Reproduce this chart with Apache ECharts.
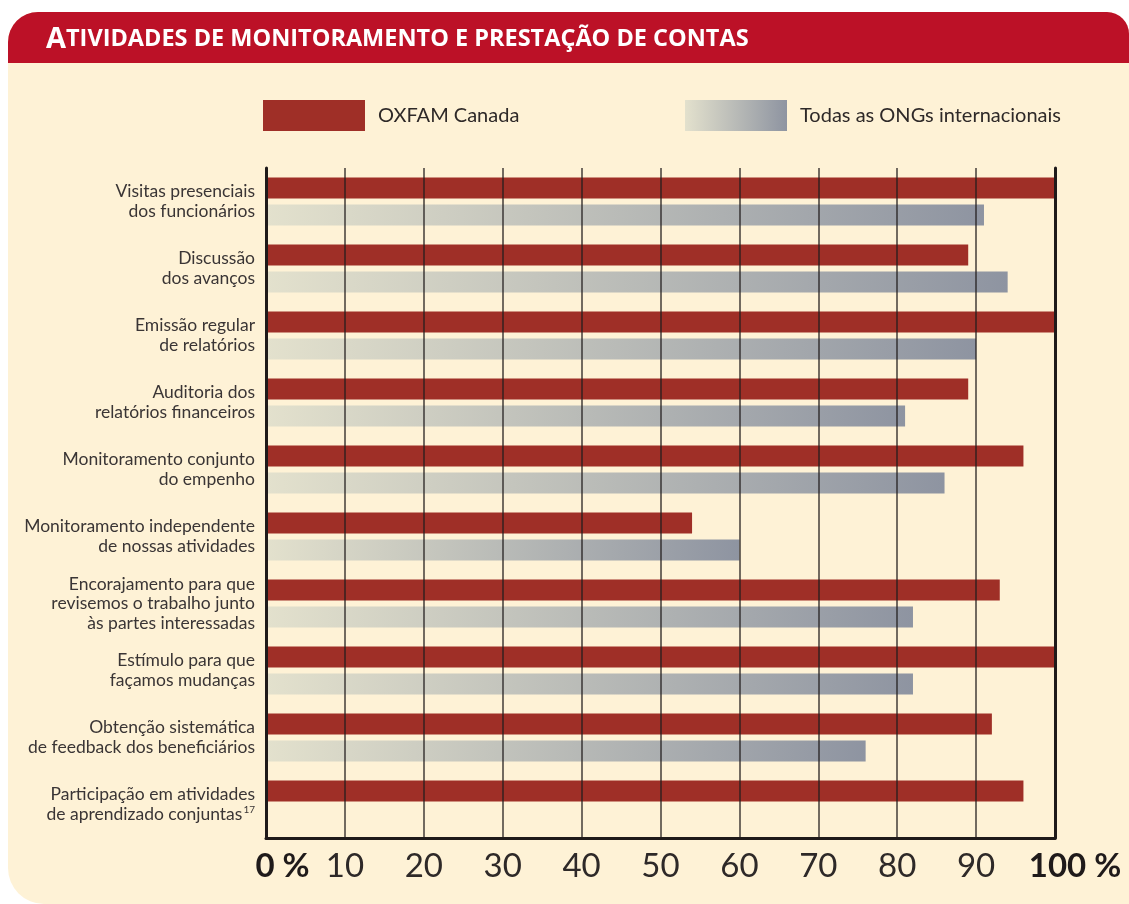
<!DOCTYPE html>
<html>
<head>
<meta charset="utf-8">
<script src="https://cdn.jsdelivr.net/npm/echarts@6/dist/echarts.min.js"></script>
<style>
  html,body{margin:0;padding:0;background:#fff}
  #chart{width:1129px;height:904px}
</style>
</head>
<body>
<div id="chart"></div>
<script>
/* Atividades de monitoramento e prestação de contas — barras horizontais */
const FONT = 'Lato, "Noto Sans", sans-serif';
const TFONT = '"Open Sans", Lato, sans-serif';
const RED = '#9f2f27';
const HEAD = '#bc1127';
const CREAM = '#fef2d6';
const INK = '#2e2928';

const categories = [
  'Visitas presenciais\ndos funcionários',
  'Discussão\ndos avanços',
  'Emissão regular\nde relatórios',
  'Auditoria dos\nrelatórios financeiros',
  'Monitoramento conjunto\ndo empenho',
  'Monitoramento independente\nde nossas atividades',
  'Encorajamento para que\nrevisemos o trabalho junto\nàs partes interessadas',
  'Estímulo para que\nfaçamos mudanças',
  'Obtenção sistemática\nde feedback dos beneficiários',
  'Participação em atividades\nde aprendizado conjuntas{sup|17}'
];
const oxfam   = [100, 89, 100, 89, 96, 54, 93, 100, 92, 96];
const allNgos = [91, 94, 90, 81, 86, 60, 82, 82, 76, null];
const seriesNames = ['OXFAM Canada', 'Todas as ONGs internacionais'];
const xTicks = {min: 0, max: 100, step: 10};

const grey = new echarts.graphic.LinearGradient(0, 0, 1, 0, [
  {offset: 0, color: '#e3e1cd'},
  {offset: 1, color: '#8e94a1'}
]);

const chart = echarts.init(document.getElementById('chart'), null, {renderer: 'canvas'});

const lineCol = 'rgba(34,28,28,0.85)';
const legendText = {fontSize: 20, color: INK, fontFamily: FONT, padding: [0, 0, 0, 8]};

chart.setOption({
  animation: false,
  textStyle: {fontFamily: FONT},
  graphic: [
    {type: 'rect', z: -10, shape: {x: 8, y: 12, width: 1121, height: 892, r: [30, 22, 0, 36]},
     style: {fill: CREAM}},
    {type: 'rect', z: -9, shape: {x: 8, y: 12, width: 1121, height: 51, r: [30, 22, 0, 0]},
     style: {fill: HEAD}}
  ],
  title: {
    left: 41, top: 20,
    text: '{a|A}{b|TIVIDADES DE MONITORAMENTO E PRESTAÇÃO DE CONTAS}',
    textStyle: {
      rich: {
        a: {fontFamily: TFONT, fontWeight: 'bold', fontSize: 29, color: '#fff'},
        b: {fontFamily: TFONT, fontWeight: 'bold', fontSize: 23.5, color: '#fff'}
      }
    }
  },
  legend: [
    {left: 263, top: 100, padding: 0, data: [seriesNames[0]], icon: 'rect', itemWidth: 102, itemHeight: 31,
     textStyle: legendText, selectedMode: false},
    {left: 685, top: 100, padding: 0, data: [seriesNames[1]], icon: 'rect', itemWidth: 102, itemHeight: 31,
     textStyle: legendText, selectedMode: false}
  ],
  grid: {left: 266, right: 74, top: 168, bottom: 66, containLabel: false},
  xAxis: {
    type: 'value', min: xTicks.min, max: xTicks.max, interval: xTicks.step, z: 10,
    axisLine: {show: true, lineStyle: {color: '#1f1a1a', width: 3}},
    axisTick: {show: false},
    splitLine: {show: true, lineStyle: {color: lineCol, width: 1.5}},
    axisLabel: {
      margin: 12, color: INK, fontSize: 33, fontFamily: FONT,
      formatter: v => v === 0 ? '{z|0 %}' : v === 100 ? '{h|100 %}' : String(v),
      rich: {
        z: {fontSize: 33, fontWeight: 'bold', color: '#1f1a1a', fontFamily: FONT, padding: [0, 0, 0, 33]},
        h: {fontSize: 33, fontWeight: 'bold', color: '#1f1a1a', fontFamily: FONT, padding: [0, 0, 0, 40]}
      }
    }
  },
  yAxis: [
    {
      type: 'category', data: categories, inverse: true, z: 10,
      axisLine: {show: true, lineStyle: {color: '#1f1a1a', width: 3}},
      axisTick: {show: false},
      axisLabel: {
        margin: 11, color: '#3a3535', fontSize: 17.5, lineHeight: 19.5, fontFamily: FONT, align: 'right',
        rich: {sup: {fontSize: 10, color: '#3a3535', fontFamily: FONT, padding: [0, 0, 9, 1]}}
      }
    },
    {
      type: 'category', data: categories, inverse: true, position: 'right', z: 10,
      axisLine: {show: true, lineStyle: {color: '#1f1a1a', width: 3}},
      axisTick: {show: false}, axisLabel: {show: false}
    }
  ],
  series: [
    {name: seriesNames[0], type: 'bar', data: oxfam, barWidth: 21, barGap: '28%',
     itemStyle: {color: RED}},
    {name: seriesNames[1], type: 'bar', data: allNgos, barWidth: 21, barGap: '28%',
     itemStyle: {color: grey}}
  ]
});
</script>
</body>
</html>
